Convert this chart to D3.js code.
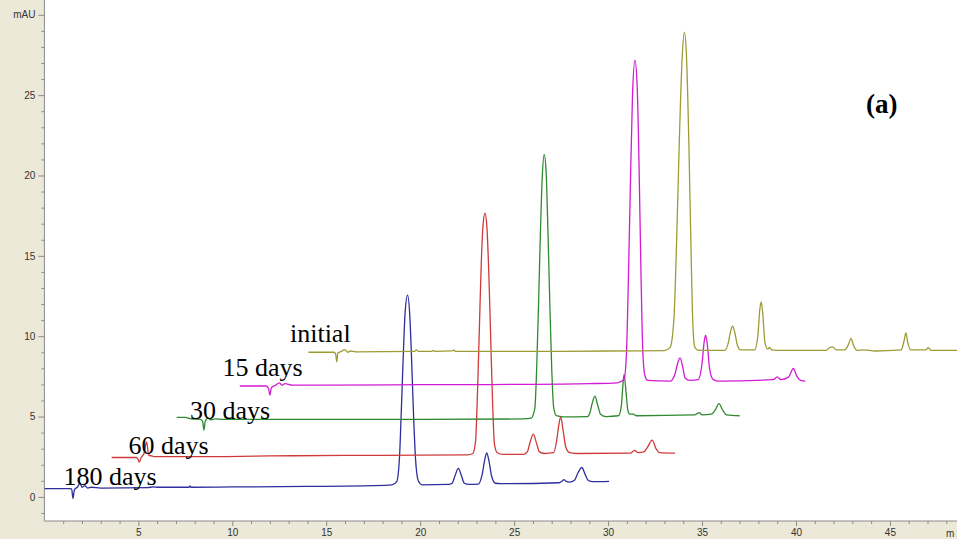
<!DOCTYPE html>
<html>
<head>
<meta charset="utf-8">
<script src="https://cdn.jsdelivr.net/npm/d3@7"></script>
<style>
  html, body { margin: 0; padding: 0; background: #fff; overflow: hidden; }
  svg { display: block; }
</style>
</head>
<body>
<svg id="chart" width="957" height="539"></svg>
<script>
// ---------------- DATA ----------------
// Each trace: [retention time (min), signal (mAU)] as drawn (stacked offsets included)
const trace180 = [[0,0.52],[1.3,0.52],[1.45,0.5],[1.52,-0.1],[1.6,0.45],[1.75,0.6],[1.9,0.85],[2.0,0.6],[2.15,0.7],[2.3,0.55],[2.5,0.6],[3.0,0.55],[5.5,0.58],[5.8,0.62],[6.0,0.6],[7.7,0.6],[7.75,0.68],[7.8,0.6],[10,0.62],[14,0.65],[17.5,0.7],[18.5,0.75],[18.75,0.95],[18.9,2.5],[19.0,5.5],[19.1,8.8],[19.2,11.5],[19.33,12.55],[19.45,11.2],[19.55,8.3],[19.65,5],[19.75,2.4],[19.9,1.0],[20.1,0.75],[21.5,0.78],[21.7,0.85],[21.85,1.3],[22.03,1.77],[22.2,1.3],[22.35,0.85],[22.6,0.78],[23.1,0.8],[23.3,1.4],[23.45,2.4],[23.54,2.74],[23.65,2.3],[23.8,1.3],[24.0,0.85],[24.3,0.82],[27.4,0.88],[27.55,0.98],[27.65,1.08],[27.75,0.98],[27.95,0.92],[28.2,1.02],[28.4,1.5],[28.6,1.83],[28.78,1.4],[28.95,1.02],[29.2,0.95],[30.05,0.97]];
const trace60 = [[3.58,2.45],[4.9,2.45],[5.0,2.3],[5.05,2.16],[5.15,2.45],[5.3,2.7],[5.44,3.42],[5.55,2.6],[5.7,2.55],[5.9,2.5],[8,2.5],[12,2.55],[16,2.58],[20,2.6],[22.5,2.62],[22.8,2.7],[22.95,3.5],[23.05,6.5],[23.15,10.5],[23.25,14.5],[23.35,17.0],[23.45,17.65],[23.55,16.8],[23.65,14],[23.75,10],[23.85,6],[23.95,3.3],[24.1,2.75],[24.4,2.65],[25.5,2.65],[25.7,2.8],[25.85,3.4],[26.02,3.9],[26.2,3.3],[26.35,2.8],[26.6,2.7],[27.1,2.75],[27.25,3.4],[27.38,4.5],[27.48,4.98],[27.6,4.2],[27.75,3.1],[27.95,2.75],[28.3,2.7],[31.2,2.72],[31.4,2.9],[31.6,2.75],[31.9,2.8],[32.1,3.1],[32.35,3.53],[32.55,3.0],[32.75,2.75],[33.56,2.72]];
const trace30 = [[7.04,4.95],[7.5,4.95],[7.8,4.85],[8.3,4.82],[8.42,4.7],[8.49,4.15],[8.56,4.7],[8.7,4.9],[8.85,4.8],[9.1,4.85],[9.5,4.82],[14,4.82],[20,4.82],[25.5,4.85],[25.9,4.9],[26.1,5.5],[26.2,8],[26.3,12],[26.4,16.5],[26.5,20],[26.6,21.3],[26.7,20.3],[26.8,16.5],[26.9,12],[27.0,8],[27.1,5.6],[27.25,5.05],[27.6,4.98],[28.9,5.0],[29.05,5.3],[29.15,5.8],[29.3,6.27],[29.45,5.7],[29.6,5.15],[29.9,5.0],[30.55,5.05],[30.7,5.6],[30.78,6.8],[30.85,7.63],[30.95,6.6],[31.05,5.4],[31.15,5.15],[31.35,5.15],[31.5,5.05],[34.6,5.1],[34.85,5.25],[35.0,5.1],[35.5,5.15],[35.7,5.4],[35.9,5.8],[36.1,5.4],[36.3,5.1],[37.0,5.05]];
const trace15 = [[10.4,6.9],[11.8,6.9],[11.93,6.75],[12.0,6.33],[12.08,6.8],[12.3,6.95],[12.5,7.1],[12.65,6.95],[12.8,7.05],[13.2,6.95],[15,6.95],[20,6.98],[25,7.0],[29,7.05],[30.5,7.1],[30.85,7.3],[30.98,9],[31.08,13.5],[31.18,19],[31.3,25],[31.43,27.17],[31.55,25.5],[31.65,20.5],[31.75,14],[31.85,9],[31.95,7.6],[32.1,7.25],[33.3,7.2],[33.55,7.6],[33.7,8.3],[33.83,8.65],[33.97,8.1],[34.1,7.4],[34.35,7.25],[34.8,7.3],[35.0,8.3],[35.12,9.7],[35.19,10.06],[35.28,9.5],[35.4,8.0],[35.6,7.3],[35.9,7.2],[38.8,7.3],[39.0,7.47],[39.2,7.3],[39.6,7.45],[39.86,7.99],[40.05,7.5],[40.25,7.25],[40.5,7.2]];
const traceInitial = [[14.05,9.0],[15.4,9.0],[15.5,8.9],[15.56,8.4],[15.62,8.95],[15.8,9.05],[16.0,9.17],[16.15,9.0],[16.3,9.08],[16.6,9.02],[19.7,9.05],[19.8,9.15],[19.9,9.05],[20.6,9.05],[20.7,9.12],[20.8,9.05],[21.7,9.08],[21.78,9.15],[21.86,9.05],[25,9.05],[30,9.08],[33.0,9.1],[33.3,9.3],[33.5,11],[33.65,16],[33.8,22.5],[33.95,27.5],[34.06,28.9],[34.17,27.5],[34.3,22],[34.42,15],[34.52,10.5],[34.62,9.3],[34.8,9.12],[36.2,9.12],[36.4,9.6],[36.52,10.3],[36.63,10.62],[36.75,10.2],[36.88,9.45],[37.05,9.15],[37.8,9.15],[37.97,10.0],[38.07,11.6],[38.15,12.13],[38.24,11.3],[38.35,9.6],[38.5,9.2],[38.6,9.3],[38.7,9.15],[39.0,9.12],[41.6,9.12],[41.75,9.25],[41.95,9.33],[42.15,9.15],[42.6,9.15],[42.8,9.5],[42.93,9.86],[43.07,9.4],[43.25,9.12],[43.6,9.15],[44.2,9.08],[45.6,9.15],[45.75,9.7],[45.85,10.2],[45.95,9.6],[46.1,9.15],[46.9,9.15],[47.04,9.28],[47.2,9.12],[48.6,9.12]];

const seriesNames = ["180 days", "60 days", "30 days", "15 days", "initial"];
const seriesData  = [trace180, trace60, trace30, trace15, traceInitial];

const xTickValues = [5, 10, 15, 20, 25, 30, 35, 40, 45];
const xTickLabels = ["5", "10", "15", "20", "25", "30", "35", "40", "45"];
const yTickValues = [0, 5, 10, 15, 20, 25, 30];
const yTickLabels = ["0", "5", "10", "15", "20", "25", "mAU"];
const xUnitLabel = "m";
const panelLabel = "(a)";

// ---------------- STYLE / LAYOUT ----------------
const W = 957, H = 539;
const plot = { left: 44.4, right: 957, top: 0, bottom: 521 };
const colors = ["#2e2e9e", "#d03a3a", "#2f8a2f", "#d21bd2", "#9c9c36"];
// label anchor (time, mAU) for each trace name, placed as in reference
const labelAnchors = [[1.01, 0.73], [4.47, 2.66], [7.75, 4.84], [9.48, 7.51], [13.07, 9.66]];
const panelBg = "#ECE9D8";

const svg = d3.select("#chart");

const x = d3.scaleLinear().domain([0, 48.57]).range([plot.left, plot.right]);
const y = d3.scaleLinear().domain([-1.5, 30.92]).range([plot.bottom, plot.top]);

// backgrounds
svg.append("rect").attr("x", 0).attr("y", 0).attr("width", W).attr("height", H).attr("fill", panelBg);
svg.append("rect").attr("x", plot.left).attr("y", plot.top)
  .attr("width", plot.right - plot.left).attr("height", plot.bottom - plot.top).attr("fill", "#ffffff");

svg.append("defs").append("clipPath").attr("id", "clip")
  .append("rect").attr("x", plot.left).attr("y", plot.top)
  .attr("width", plot.right - plot.left).attr("height", plot.bottom - plot.top);

// axes
const axisColor = "#8a8a8a";
const yAxis = svg.append("g").attr("transform", `translate(${plot.left},0)`)
  .call(d3.axisLeft(y).tickValues(yTickValues).tickSize(6).tickPadding(3)
    .tickFormat((d, i) => yTickLabels[i]));
const yMinor = svg.append("g").attr("transform", `translate(${plot.left},0)`)
  .call(d3.axisLeft(y).tickValues(d3.range(-1, 31).filter(v => v % 5 !== 0)).tickSize(3).tickFormat(""));
const xAxis = svg.append("g").attr("transform", `translate(0,${plot.bottom})`)
  .call(d3.axisBottom(x).tickValues(xTickValues).tickSize(5).tickPadding(3)
    .tickFormat((d, i) => xTickLabels[i]));
const xMinor = svg.append("g").attr("transform", `translate(0,${plot.bottom})`)
  .call(d3.axisBottom(x).tickValues(d3.range(1, 49).filter(v => v % 5 !== 0)).tickSize(3).tickFormat(""));

[yAxis, yMinor, xAxis, xMinor].forEach(g => {
  g.selectAll(".domain").attr("stroke", axisColor);
  g.selectAll(".tick line").attr("stroke", axisColor);
  g.selectAll("text").attr("fill", "#333").style("font-family", "'Liberation Sans', Arial, sans-serif")
    .style("font-size", "10px");
});
yAxis.select(".domain").attr("d", `M0,${plot.top}V${plot.bottom}`);
yMinor.select(".domain").remove();
xMinor.select(".domain").remove();
xAxis.select(".domain").attr("d", `M${plot.left},0H${plot.right}`);

// unit label at the right end of the x axis
svg.append("text").attr("x", 946).attr("y", 537)
  .attr("fill", "#333").style("font-family", "'Liberation Sans', Arial, sans-serif")
  .style("font-size", "10px").text(xUnitLabel);

// traces
const line = d3.line().x(d => x(d[0])).y(d => y(d[1])).curve(d3.curveMonotoneX);
const traces = svg.append("g").attr("clip-path", "url(#clip)");
seriesData.forEach((data, i) => {
  traces.append("path").datum(data).attr("d", line)
    .attr("fill", "none").attr("stroke", colors[i]).attr("stroke-width", 1.3)
    .attr("stroke-linejoin", "round");
});

// trace labels
seriesNames.forEach((name, i) => {
  svg.append("text").attr("x", x(labelAnchors[i][0])).attr("y", y(labelAnchors[i][1]))
    .style("font-family", "'Liberation Serif', 'Times New Roman', serif").style("font-size", "26px")
    .attr("fill", "#000").text(name);
});

// panel label
svg.append("text").attr("x", 866).attr("y", 113)
  .style("font-family", "'Liberation Serif', 'Times New Roman', serif").style("font-size", "27px")
  .style("font-weight", "bold").attr("fill", "#000").text(panelLabel);
</script>
</body>
</html>
